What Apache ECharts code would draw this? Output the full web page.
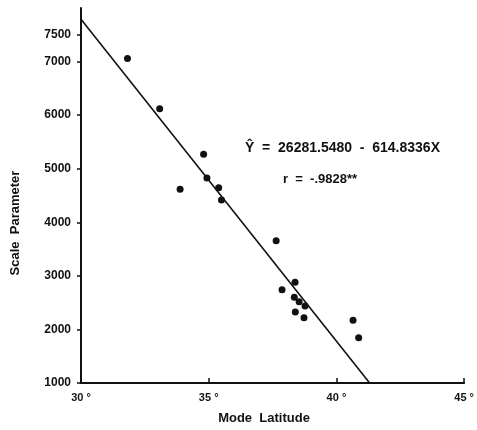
<!DOCTYPE html>
<html>
<head>
<meta charset="utf-8">
<script src="https://cdn.jsdelivr.net/npm/echarts@6/dist/echarts.min.js"></script>
<style>
  html, body { margin: 0; padding: 0; background: #fff; }
  #chart { width: 477px; height: 430px; }
</style>
</head>
<body>
<div id="chart"></div>
<script>
// observed points: [mode latitude, scale parameter]
const points = [
  [31.82, 7056], [33.08, 6118], [34.80, 5272], [34.93, 4825], [33.88, 4619],
  [35.39, 4644], [35.50, 4414], [37.64, 3655], [38.38, 2879], [37.87, 2741],
  [38.35, 2599], [38.54, 2517], [38.77, 2437], [38.39, 2325], [38.73, 2219],
  [40.65, 2170], [40.87, 1845]
];
// regression line end points as drawn (Y = 26281.5480 - 614.8336X)
const fitLine = [[30, 7790], [41.3, 1000]];
const xTicks = [30, 35, 40, 45];
const yTicks = [1000, 2000, 3000, 4000, 5000, 6000, 7000, 7500];
const equation = 'Ŷ  =  26281.5480  -  614.8336X';
const corr = 'r  =  -.9828**';

const font = '"Liberation Sans", Arial, sans-serif';
const chart = echarts.init(document.getElementById('chart'));
chart.setOption({
  backgroundColor: '#fff',
  animation: false,
  grid: { left: 81, right: 11, top: 8, bottom: 47 },
  xAxis: {
    type: 'value',
    min: 30,
    max: 45,
    splitLine: { show: false },
    axisLine: { lineStyle: { color: '#111', width: 2 } },
    axisTick: { inside: true, length: 5, customValues: xTicks, lineStyle: { color: '#111', width: 1.5 } },
    axisLabel: {
      customValues: xTicks,
      color: '#111', fontFamily: font, fontWeight: 'bold', fontSize: 11, margin: 9,
      formatter: v => v + ' °'
    }
  },
  yAxis: {
    type: 'value',
    min: 1000,
    max: 8000,
    splitLine: { show: false },
    axisLine: { lineStyle: { color: '#111', width: 2 } },
    axisTick: { length: 4, customValues: yTicks, lineStyle: { color: '#111', width: 1.5 } },
    axisLabel: {
      customValues: yTicks,
      color: '#111', fontFamily: font, fontWeight: 'bold', fontSize: 12, margin: 10,
      formatter: v => String(v)
    }
  },
  graphic: [
    { type: 'text', x: 15, y: 223, rotation: Math.PI / 2,
      style: { text: 'Scale  Parameter', fill: '#111', font: 'bold 13px ' + font,
        align: 'center', verticalAlign: 'middle' } },
    { type: 'text', x: 264, y: 418,
      style: { text: 'Mode  Latitude', fill: '#111', font: 'bold 13px ' + font,
        align: 'center', verticalAlign: 'middle' } },
    { type: 'text', left: 245, top: 141,
      style: { text: equation, fill: '#111', font: 'bold 14px ' + font } },
    { type: 'text', left: 283, top: 173,
      style: { text: corr, fill: '#111', font: 'bold 13px ' + font } }
  ],
  series: [
    {
      type: 'line',
      data: fitLine,
      symbol: 'none',
      lineStyle: { color: '#111', width: 1.6 },
      z: 2
    },
    {
      type: 'scatter',
      data: points,
      symbolSize: 7,
      itemStyle: { color: '#111', opacity: 1 },
      z: 3
    }
  ]
});
</script>
</body>
</html>
